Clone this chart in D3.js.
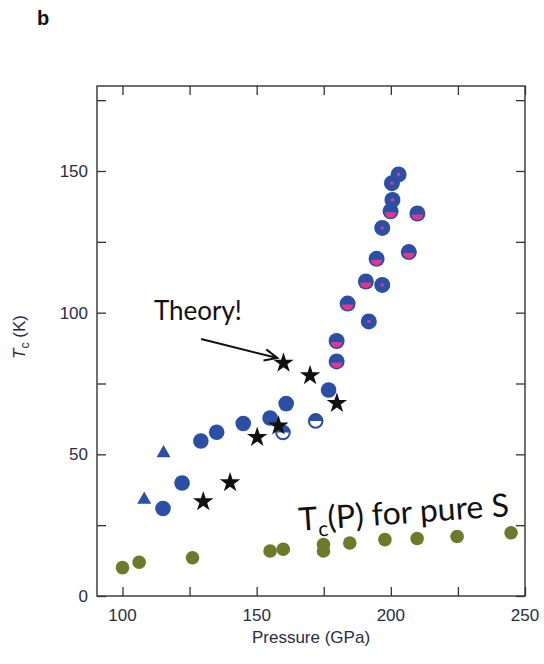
<!DOCTYPE html>
<html><head><meta charset="utf-8">
<script src="https://cdn.jsdelivr.net/npm/d3@7"></script>
<style>body{margin:0;background:#fff}svg{display:block}</style>
</head><body>
<svg id="c" width="544" height="664"></svg>
<script>
// ---- data (Pressure GPa, Tc K) ----
const sulfurP   = [100, 106.2, 126.1, 155, 159.9, 174.9, 174.9, 184.7, 197.8, 209.8, 224.7, 244.8];
const sulfurT   = [10, 11.9, 13.5, 15.9, 16.5, 18.2, 15.9, 18.7, 19.9, 20.3, 21.0, 22.3];
const blueP     = [115.1, 122.2, 129.2, 135.1, 145, 155, 161, 176.8];
const blueT     = [30.9, 39.9, 54.7, 57.8, 60.9, 62.8, 67.9, 72.7];
const triP      = [108.1, 115.3];
const triT      = [34, 50.4];
const openP     = [159.8, 172];
const openT     = [57.7, 61.8];
const starP     = [130.1, 140.1, 150.2, 158.1, 160, 169.9, 179.9];
const starT     = [33.3, 40, 56, 60.1, 82.2, 77.8, 68];
const halfPinkP = [179.8, 179.8, 183.9, 190.7, 194.7, 199.9, 209.9, 206.7];
const halfPinkT = [90, 82.8, 103.2, 111, 119, 135.8, 135, 121.4];
const dotPinkP  = [191.8, 196.8, 196.8, 200.6, 200.4, 202.9];
const dotPinkT  = [96.9, 109.8, 129.9, 139.8, 145.7, 148.8];
const xTicks = [100, 125, 150, 175, 200, 225, 250];
const xLabels = [100, 150, 200, 250];
const yTicks = [0, 25, 50, 75, 100, 125, 150, 175];
const yLabels = [0, 50, 100, 150];
const arrowFrom = [129.3, 90.7], arrowTo = [157.7, 84];
const theoryAt = [111.7, 97.4];
const pureSAt = [165.9, 23];

const svg = d3.select("#c");
const L = 97, R = 525, T = 86, B = 596;
const x = d3.scaleLinear().domain([90.5, 250]).range([L, R]);
const y = d3.scaleLinear().domain([0, 180]).range([B, T]);
const BLUE = "#2b4fa5", PINK = "#e3358c", GREEN = "#6c7a2a", AX = "#2a2c45";
const zip = (a, b) => a.map((v, i) => [v, b[i]]);
const lf = "'Liberation Sans', Arial, Helvetica, sans-serif";

// panel letter
svg.append("text").attr("x", 37).attr("y", 25).style("font-family", lf)
  .attr("font-weight", "bold").attr("font-size", 20).attr("fill", "#111").text("b");

// axes with inward ticks on all four sides
const tk = 9;
const g = svg.append("g");
g.append("g").attr("transform", `translate(0,${B})`)
  .call(d3.axisBottom(x).tickValues(xTicks).tickSize(-tk).tickFormat(""));
g.append("g").attr("transform", `translate(0,${T})`)
  .call(d3.axisTop(x).tickValues(xTicks).tickSize(-tk).tickFormat(""));
g.append("g").attr("transform", `translate(${L},0)`)
  .call(d3.axisLeft(y).tickValues(yTicks).tickSize(-tk).tickFormat(""));
g.append("g").attr("transform", `translate(${R},0)`)
  .call(d3.axisRight(y).tickValues(yTicks).tickSize(-tk).tickFormat(""));
g.selectAll(".domain").remove();
g.selectAll(".tick line").attr("stroke", "#333").attr("stroke-width", 1.3);
svg.append("rect").attr("x", L).attr("y", T).attr("width", R - L).attr("height", B - T)
  .attr("fill", "none").attr("stroke", "#333").attr("stroke-width", 1.4);

// tick labels
svg.append("g").selectAll("text").data(xLabels).join("text")
  .attr("x", d => x(d)).attr("y", B + 25).attr("text-anchor", "middle")
  .style("font-family", lf).attr("font-size", 17).attr("fill", AX).text(d => d);
svg.append("g").selectAll("text").data(yLabels).join("text")
  .attr("x", L - 9).attr("y", d => y(d) + 6).attr("text-anchor", "end")
  .style("font-family", lf).attr("font-size", 17).attr("fill", AX).text(d => d);

// axis titles
svg.append("text").attr("x", (L + R) / 2).attr("y", B + 47).attr("text-anchor", "middle")
  .style("font-family", lf).attr("font-size", 17).attr("fill", AX).text("Pressure (GPa)");
const yt = svg.append("text").attr("transform", `translate(25,${(T + B) / 2 - 4}) rotate(-90)`)
  .attr("text-anchor", "middle").style("font-family", lf).attr("font-size", 17).attr("fill", AX);
yt.append("tspan").attr("font-style", "italic").text("T");
yt.append("tspan").attr("font-size", 12).attr("dy", 4).text("c");
yt.append("tspan").attr("dy", -4).text(" (K)");

// marks
const pts = svg.append("g");
pts.selectAll("circle.s").data(zip(sulfurP, sulfurT)).join("circle").attr("class", "s")
  .attr("cx", d => x(d[0])).attr("cy", d => y(d[1])).attr("r", 6.8).attr("fill", GREEN);
pts.selectAll("path.tri").data(zip(triP, triT)).join("path").attr("class", "tri")
  .attr("transform", d => `translate(${x(d[0])},${y(d[1])})`)
  .attr("d", d3.symbol(d3.symbolTriangle, 85)).attr("fill", BLUE);
pts.selectAll("circle.b").data(zip(blueP, blueT)).join("circle").attr("class", "b")
  .attr("cx", d => x(d[0])).attr("cy", d => y(d[1])).attr("r", 7.8).attr("fill", BLUE);

// open half circles
const op = pts.selectAll("g.op").data(zip(openP, openT)).join("g").attr("class", "op")
  .attr("transform", d => `translate(${x(d[0])},${y(d[1])})`);
op.append("circle").attr("r", 6.8).attr("fill", "#fff").attr("stroke", BLUE).attr("stroke-width", 2);
op.append("path").attr("d", d3.arc()({innerRadius: 0, outerRadius: 6.8, startAngle: -Math.PI / 2, endAngle: Math.PI / 2}))
  .attr("fill", BLUE);

// stars
pts.selectAll("path.star").data(zip(starP, starT)).join("path").attr("class", "star")
  .attr("transform", d => `translate(${x(d[0])},${y(d[1])})`)
  .attr("d", d3.symbol(d3.symbolStar, 130)).attr("fill", "#111");

// half pink
const hp = pts.selectAll("g.hp").data(zip(halfPinkP, halfPinkT)).join("g").attr("class", "hp")
  .attr("transform", d => `translate(${x(d[0])},${y(d[1])})`);
hp.append("circle").attr("r", 8).attr("fill", BLUE);
hp.append("path").attr("d", d3.arc()({innerRadius: 0, outerRadius: 5.6, startAngle: Math.PI / 2, endAngle: 3 * Math.PI / 2}))
  .attr("transform", "translate(0,1)").attr("fill", PINK);

// pink dot
const dp = pts.selectAll("g.dp").data(zip(dotPinkP, dotPinkT)).join("g").attr("class", "dp")
  .attr("transform", d => `translate(${x(d[0])},${y(d[1])})`);
dp.append("circle").attr("r", 8).attr("fill", BLUE);
dp.append("circle").attr("r", 1.8).attr("fill", PINK);

// annotations
const af = "Lato, 'Open Sans', sans-serif";
svg.append("text").attr("x", x(theoryAt[0])).attr("y", y(theoryAt[1]))
  .style("font-family", af).attr("font-size", 26).attr("fill", "#111").text("Theory!");
const ax0 = x(arrowFrom[0]), ay0 = y(arrowFrom[1]), ax1 = x(arrowTo[0]), ay1 = y(arrowTo[1]);
const ang = Math.atan2(ay1 - ay0, ax1 - ax0), hl = 14, ha = 0.42;
svg.append("path")
  .attr("d", `M${ax0},${ay0}L${ax1},${ay1}` +
    `M${ax1 - hl * Math.cos(ang - ha)},${ay1 - hl * Math.sin(ang - ha)}L${ax1},${ay1}` +
    `L${ax1 - hl * Math.cos(ang + ha)},${ay1 - hl * Math.sin(ang + ha)}`)
  .attr("fill", "none").attr("stroke", "#111").attr("stroke-width", 2);

const ps = svg.append("text").attr("transform", `translate(${x(pureSAt[0])},${y(pureSAt[1])}) rotate(-4)`)
  .style("font-family", af).attr("font-size", 32).attr("fill", "#111");
ps.append("tspan").text("T");
ps.append("tspan").attr("font-size", 21).attr("dy", 7).text("c");
ps.append("tspan").attr("dy", -7).text("(P) for pure S");
</script>
</body></html>
